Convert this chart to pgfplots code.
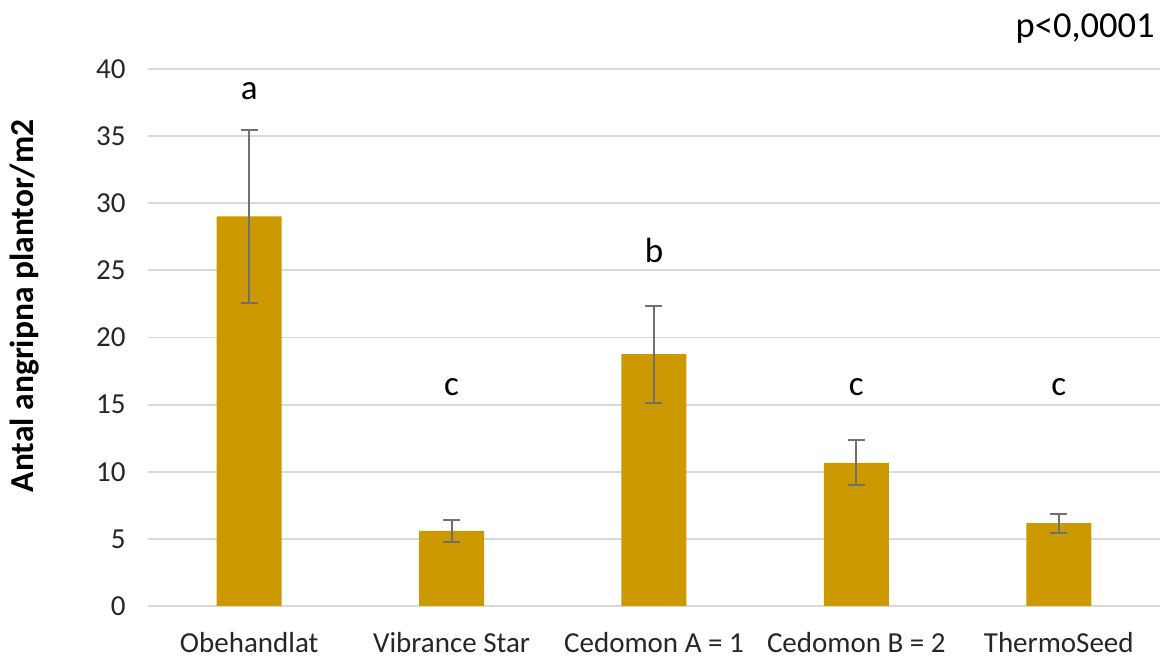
\documentclass[border=0pt]{standalone}
\usepackage{pgfplots}
\pgfplotsset{compat=1.18}
\usepackage{fontspec}
\setmainfont{Carlito}
\definecolor{barcol}{HTML}{CC9900}
\definecolor{gridcol}{HTML}{D9D9D9}
\definecolor{errcol}{HTML}{707070}
\begin{document}
\begin{tikzpicture}[x=1pt,y=1pt]
\path[use as bounding box] (-148,-53) rectangle (1015,606);
\begin{axis}[
  at={(0,0)}, anchor=south west,
  scale only axis,
  width=1012pt, height=537pt,
  xmin=-0.5, xmax=4.5,
  ymin=0, ymax=40,
  ytick={0,5,...,40},
  xtick={0,1,2,3,4},
  xticklabels={Obehandlat, Vibrance Star, {Cedomon A = 1}, {Cedomon B = 2}, ThermoSeed},
  axis line style={draw=none},
  major tick length=0pt,
  ymajorgrids,
  grid style={gridcol, line width=1.8pt},
  /pgf/number format/assume math mode=true,
  tick label style={font=\fontsize{29}{34}\selectfont, text=black!85},
  yticklabel style={anchor=east, xshift=-19pt},
  xticklabel style={anchor=base, yshift=-47pt},
  ylabel={Antal angripna plantor/m2},
  ylabel style={font=\fontsize{33.5}{38}\selectfont\bfseries, at={(axis description cs:-0.122,0.559)}, anchor=center, rotate=0},
  clip=false,
]
\addplot[ybar, bar width=65pt, fill=barcol, draw=none,
  error bars/.cd, y dir=both, y explicit,
  error bar style={errcol, line width=2pt},
  error mark options={errcol, line width=2pt, mark size=8.5pt, rotate=90}]
  table[x=x, y=y, y error=e] {
x y e
0 29.02 6.42
1 5.59 0.81
2 18.76 3.62
3 10.67 1.69
4 6.17 0.72
};
\node[anchor=base, inner sep=0pt, font=\fontsize{35}{40}\selectfont] at (axis cs:0,37.7) {a};
\node[anchor=base, inner sep=0pt, font=\fontsize{35}{40}\selectfont] at (axis cs:1,15.7) {c};
\node[anchor=base, inner sep=0pt, font=\fontsize{35}{40}\selectfont] at (axis cs:2,25.55) {b};
\node[anchor=base, inner sep=0pt, font=\fontsize{35}{40}\selectfont] at (axis cs:3,15.7) {c};
\node[anchor=base, inner sep=0pt, font=\fontsize{35}{40}\selectfont] at (axis cs:4,15.7) {c};
\node[anchor=base east, inner sep=0pt, font=\fontsize{36.5}{42}\selectfont] at (axis cs:4.475,42.38) {p<0,0001};
\end{axis}
\end{tikzpicture}
\end{document}
